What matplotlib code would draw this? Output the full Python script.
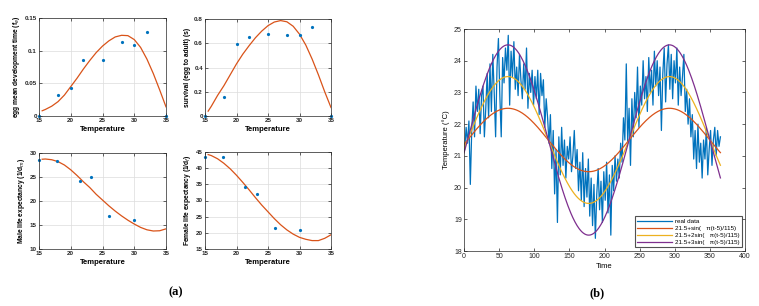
import numpy as np
import matplotlib
matplotlib.use("Agg")
import matplotlib.pyplot as plt

plt.rcParams['font.family'] = ['Liberation Sans', 'DejaVu Sans']

# ---------------- data: panel (a) ----------------
pt_temp_a = [15, 18, 20, 22, 25, 28, 30, 32, 35]
egg_dev = [0.0, 0.032, 0.043, 0.085, 0.085, 0.113, 0.109, 0.129, 0.0]
survival = [0.0, 0.16, 0.59, 0.65, 0.68, 0.665, 0.67, 0.73, 0.0]

pt_temp_b = [15, 17.8, 21.4, 23.2, 26.1, 30]
male_life = [28.5, 28.3, 24.1, 25.1, 16.9, 16.0]
female_life = [43.6, 43.3, 34.3, 32.1, 21.4, 21.0]

fit_temp = [15.5, 16, 17, 18, 19, 20, 21, 22, 23, 24, 25, 26, 27, 28, 29, 30,
            31, 32, 33, 34, 35]
egg_fit = [0.008, 0.010, 0.015, 0.022, 0.032, 0.045, 0.058, 0.072, 0.085, 0.097,
           0.107, 0.115, 0.121, 0.1235, 0.123, 0.117, 0.105, 0.087, 0.065, 0.040, 0.014]
surv_fit = [0.04, 0.08, 0.17, 0.25, 0.34, 0.43, 0.51, 0.58, 0.645, 0.70, 0.745,
            0.775, 0.787, 0.777, 0.74, 0.675, 0.585, 0.47, 0.34, 0.20, 0.07]
male_fit = [28.7, 28.75, 28.6, 28.2, 27.5, 26.5, 25.3, 24.0, 22.8, 21.4, 20.2,
            19.0, 17.9, 16.9, 16.0, 15.2, 14.5, 14.0, 13.75, 13.8, 14.2]
female_fit = [44.2, 43.9, 42.9, 41.5, 39.8, 37.8, 35.6, 33.3, 30.9, 28.6, 26.5,
              24.4, 22.5, 20.9, 19.6, 18.6, 18.0, 17.6, 17.6, 18.3, 19.4]

# ---------------- data: panel (b) ----------------
days = list(range(1, 366, 2))
real_temp = [
    21.2, 21.9, 21.4, 22.1, 20.1, 21.8, 22.7, 21.6, 23.2, 22.4,
    23.1, 21.7, 22.9, 23.2, 21.6, 22.5, 23.6, 22.2, 23.9, 22.4,
    24.2, 23.0, 21.6, 23.8, 24.7, 22.9, 21.6, 24.1, 23.3, 24.4,
    23.7, 24.8, 22.6, 24.3, 23.5, 24.6, 23.1, 23.8, 22.9, 24.2,
    23.4, 22.8, 23.9, 23.1, 24.4, 22.5, 23.6, 23.0, 23.7, 22.6,
    23.5, 22.8, 23.7, 22.3, 23.6, 22.9, 23.4, 21.9, 22.8, 22.2,
    21.4, 22.3, 20.6, 21.8, 19.8, 21.2, 18.9, 21.6, 20.4, 21.9,
    20.7, 21.5, 20.3, 21.3, 20.9, 21.6, 20.5, 21.0, 21.8, 20.6,
    21.2, 19.9, 20.8, 19.6, 21.1, 19.4, 20.6, 19.7, 20.9, 19.1,
    20.3, 18.8, 20.1, 18.4, 19.8, 20.6, 19.3, 20.2, 18.9, 20.5,
    19.6, 20.8, 19.2, 20.4, 18.5, 20.7, 19.9, 21.0, 20.2, 20.9,
    20.3, 21.4, 20.8, 22.2, 21.5, 23.9, 21.4, 22.5, 20.7, 22.8,
    21.6, 23.0, 22.2, 23.8, 21.9, 23.2, 22.6, 24.0, 22.8, 23.5,
    22.4, 24.1, 23.0, 23.7, 22.6, 24.3, 23.2, 24.0, 22.9, 23.8,
    21.8, 23.6, 24.4, 22.7, 23.9, 24.5, 23.1, 24.2, 22.8, 24.0,
    23.3, 24.4, 22.6, 23.8, 22.9, 23.5, 24.2, 22.4, 23.1, 22.0,
    22.8, 21.6, 22.3, 20.9, 21.8, 20.6, 22.0, 20.8, 21.4, 20.3,
    21.5, 20.9, 21.9, 20.4, 21.2, 21.8, 20.7, 21.5, 21.9, 21.0,
    21.8, 21.3, 21.6,
]
amplitudes = [1, 2, 3]
legend_labels = ["real data",
                 "21.5+sin(   \u03c0(t-5)/115)",
                 "21.5+2sin(   \u03c0(t-5)/115)",
                 "21.5+3sin(   \u03c0(t-5)/115)"]

BLUE = "#0072BD"
ORANGE = "#D95319"
YELLOW = "#EDB120"
PURPLE = "#7E2F8E"
SPINE = "#262626"

W, H = 759, 306
fig = plt.figure(figsize=(W / 100, H / 100), dpi=100)


def add_ax(l, t, r, b):
    return fig.add_axes([l / W, 1 - b / H, (r - l) / W, (b - t) / H])


def style(ax, grid=True, fs=4.5, bold=True):
    for s in ax.spines.values():
        s.set_color(SPINE)
        s.set_linewidth(0.5)
    ax.tick_params(direction='in', length=2, width=0.5, colors=SPINE,
                   labelsize=fs, top=True, right=True, pad=1.5)
    for lab in ax.get_xticklabels() + ax.get_yticklabels():
        lab.set_fontweight('bold' if bold else 'normal')
    if grid:
        ax.grid(True, color='#dcdcdc', linewidth=0.5)
        ax.set_axisbelow(True)


def panel_a(ax, xs, ys, fx, fy, ylim, yticks, yticklabels, ylabel):
    ax.plot(fx, fy, color=ORANGE, linewidth=0.9)
    ax.plot(xs, ys, 'o', color=BLUE, markersize=2.3, markeredgewidth=0,
            clip_on=False)
    ax.set_xlim(15, 35)
    ax.set_ylim(*ylim)
    ax.set_xticks([15, 20, 25, 30, 35])
    ax.set_yticks(yticks)
    ax.set_yticklabels(yticklabels)
    ax.set_xlabel("Temperature", fontsize=5.5, fontweight='bold', labelpad=2)
    ax.set_ylabel(ylabel, fontsize=4.8, fontweight='bold', labelpad=2)
    style(ax)


ax1 = add_ax(39, 18, 166, 116)
panel_a(ax1, pt_temp_a, egg_dev, fit_temp, egg_fit, (0, 0.15),
        [0, 0.05, 0.1, 0.15], ["0", "0.05", "0.1", "0.15"],
        "egg mean development time (f$_e$)")

ax2 = add_ax(205, 19, 331, 116)
panel_a(ax2, pt_temp_a, survival, fit_temp, surv_fit, (0, 0.8),
        [0, 0.2, 0.4, 0.6, 0.8], ["0", "0.2", "0.4", "0.6", "0.8"],
        "survival (egg to adult) (s)")

ax3 = add_ax(39, 153, 166, 249)
panel_a(ax3, pt_temp_b, male_life, fit_temp, male_fit, (10, 30),
        [10, 15, 20, 25, 30], ["10", "15", "20", "25", "30"],
        "Male life expectancy (1/d$_m$)")

ax4 = add_ax(205, 152, 331, 249)
panel_a(ax4, pt_temp_b, female_life, fit_temp, female_fit, (15, 45),
        [15, 20, 25, 30, 35, 40, 45], ["15", "20", "25", "30", "35", "40", "45"],
        "Female life expectancy (1/d$_f$)")

# ---------------- panel (b) ----------------
axb = add_ax(464, 29, 745, 251)
t = np.arange(0, 366)
axb.plot(days, real_temp, color=BLUE, linewidth=0.9, label=legend_labels[0])
for amp, col, lab in zip(amplitudes, [ORANGE, YELLOW, PURPLE], legend_labels[1:]):
    axb.plot(t, 21.5 + amp * np.sin(np.pi * (t - 5) / 115), color=col,
             linewidth=0.9, label=lab)
axb.set_xlim(0, 400)
axb.set_ylim(18, 25)
axb.set_xticks(range(0, 401, 50))
axb.set_yticks(range(18, 26))
axb.set_xlabel("Time", fontsize=5.5, labelpad=2)
axb.set_ylabel("Temperature (\u00b0C)", fontsize=5.5, labelpad=3)
style(axb, grid=False, fs=5, bold=False)
leg = axb.legend(loc='lower right', bbox_to_anchor=(0.99, 0.018), fontsize=4.5,
                 frameon=True, fancybox=False, borderaxespad=0, handlelength=5.5,
                 handletextpad=0.6, labelspacing=0.25, borderpad=0.35)
leg.get_frame().set_edgecolor(SPINE)
leg.get_frame().set_linewidth(0.8)

fig.text(176 / W, 1 - 292 / H, "(a)", fontsize=9, fontweight='bold',
         family='Liberation Serif', ha='center', va='center')
fig.text(597 / W, 1 - 293 / H, "(b)", fontsize=9, fontweight='bold',
         family='Liberation Serif', ha='center', va='center')

fig.savefig("out.png", dpi=100)
